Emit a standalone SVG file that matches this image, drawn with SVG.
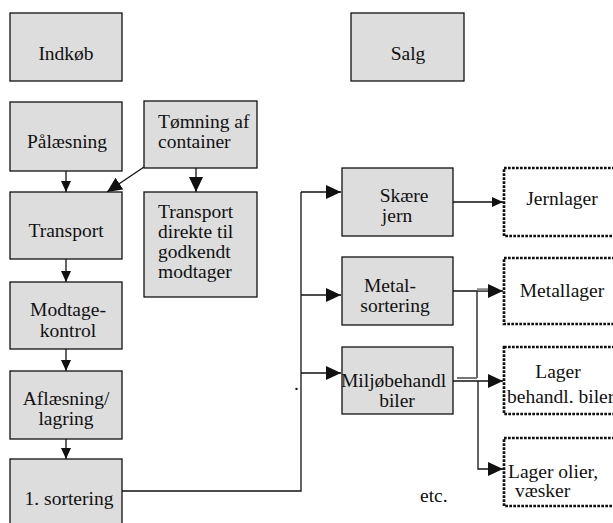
<svg xmlns="http://www.w3.org/2000/svg" width="613" height="523" viewBox="0 0 613 523">
<style>
.box{fill:#dddddd;stroke:#111;stroke-width:1.3}
.store{fill:#fff;stroke:#111;stroke-width:2.7;stroke-dasharray:2.7 1.3}
text{font-family:'Liberation Serif','Times New Roman',Times,serif;font-size:19.5px;fill:#111}
.c{text-anchor:middle}
.ln{fill:none;stroke:#111;stroke-width:1.3}
</style>
<defs>
<marker id="a" markerUnits="userSpaceOnUse" markerWidth="12" markerHeight="12" refX="11" refY="5" orient="auto"><path d="M0,0 L11,5 L0,10 Z" fill="#111"/></marker>
<marker id="b" markerUnits="userSpaceOnUse" markerWidth="16" markerHeight="16" refX="15" refY="7" orient="auto"><path d="M0,0 L15,7 L0,14 Z" fill="#111"/></marker>
</defs>
<g id="connectors">
<path class="ln" d="M66,171 V192" marker-end="url(#a)"/>
<path class="ln" d="M144,167 L107,192" marker-end="url(#b)"/>
<path class="ln" d="M196,163 V192" marker-end="url(#b)"/>
<path class="ln" d="M66,259 V282" marker-end="url(#a)"/>
<path class="ln" d="M66,349 V371" marker-end="url(#a)"/>
<path class="ln" d="M66,439 V459" marker-end="url(#a)"/>
<path class="ln" d="M118,491 H301 V192"/>
<path class="ln" d="M301,192 H341" marker-end="url(#b)"/>
<path class="ln" d="M301,295 H341" marker-end="url(#b)"/>
<path class="ln" d="M301,373 H341" marker-end="url(#b)"/>
<path class="ln" d="M453,202 H503" marker-end="url(#a)"/>
<path class="ln" d="M453,291 H503" marker-end="url(#b)"/>
<path d="M477,289.5 H488" stroke="#888" stroke-width="2.5"/>
<path class="ln" d="M477,291 V378"/>
<path d="M457,378 H477" stroke="#777" stroke-width="2"/>
<path class="ln" d="M453,381 H503" marker-end="url(#b)"/>
<path class="ln" d="M478,381 V469 H503" marker-end="url(#b)"/>
</g>
<g id="indkob"><rect class="box" x="10" y="13" width="112" height="68"/><text class="c" x="66" y="60">Indkøb</text></g>
<g id="salg"><rect class="box" x="351" y="13" width="113" height="68"/><text class="c" x="408" y="60">Salg</text></g>
<g id="palaesning"><rect class="box" x="10" y="102" width="112" height="69"/><text class="c" x="67" y="148">Pålæsning</text></g>
<g id="tomning"><rect class="box" x="144" y="101" width="113" height="67"/><text x="158" y="128">Tømning af</text><text x="158" y="148">container</text></g>
<g id="transport"><rect class="box" x="10" y="192" width="112" height="67"/><text class="c" x="66" y="237">Transport</text></g>
<g id="direkte"><rect class="box" x="144" y="192" width="113" height="105"/><text x="158" y="218">Transport</text><text x="158" y="238">direkte til</text><text x="158" y="258">godkendt</text><text x="158" y="278">modtager</text></g>
<g id="modtage"><rect class="box" x="10" y="282" width="112" height="67"/><text class="c" x="68" y="316">Modtage-</text><text class="c" x="68" y="337">kontrol</text></g>
<g id="aflaesning"><rect class="box" x="10" y="371" width="112" height="68"/><text class="c" x="66" y="405">Aflæsning/</text><text class="c" x="66" y="425">lagring</text></g>
<g id="sortering1"><rect class="box" x="10" y="459" width="112" height="70"/><text class="c" x="69" y="505">1. sortering</text></g>
<g id="skaere"><rect class="box" x="342" y="168" width="111" height="68"/><text class="c" x="404" y="202">Skære</text><text class="c" x="397" y="222">jern</text></g>
<g id="metal"><rect class="box" x="342" y="257" width="111" height="68"/><text class="c" x="390" y="292">Metal-</text><text class="c" x="395" y="312">sortering</text></g>
<g id="miljo"><rect class="box" x="342" y="347" width="111" height="67"/><text x="341" y="387">Miljøbehandl</text><text class="c" x="397" y="407">biler</text></g>
<g id="jernlager"><rect class="store" x="504" y="168" width="118" height="68"/><text class="c" x="562" y="205">Jernlager</text></g>
<g id="metallager"><rect class="store" x="504" y="258" width="118" height="66"/><text class="c" x="562" y="297">Metallager</text></g>
<g id="lagerbiler"><rect class="store" x="504" y="347" width="118" height="67"/><text class="c" x="558" y="378">Lager</text><text x="507" y="403">behandl. biler</text></g>
<g id="lagerolier"><rect class="store" x="504" y="438" width="118" height="68"/><text x="508" y="478">Lager olier,</text><text x="515" y="497">væsker</text></g>
<text x="294" y="390">.</text>
<text x="420" y="502">etc.</text>
</svg>
